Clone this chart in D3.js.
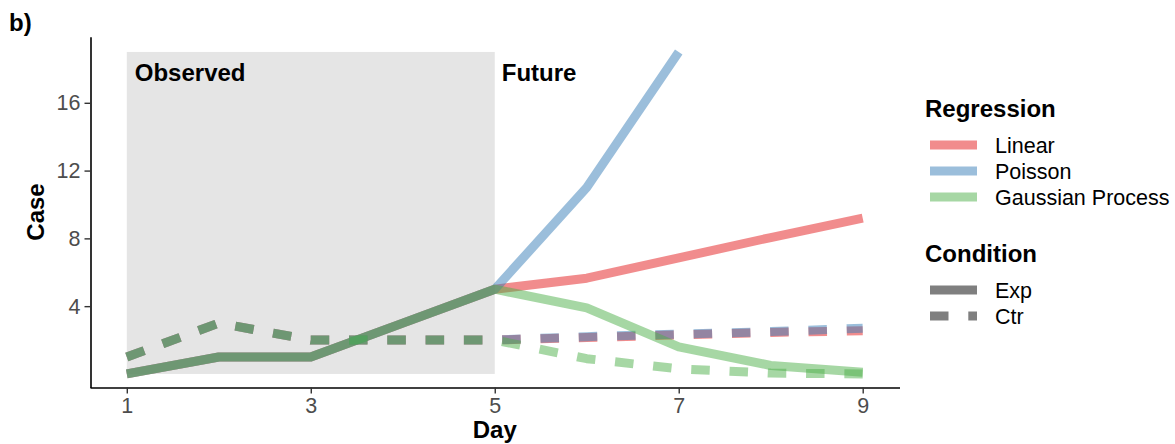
<!DOCTYPE html>
<html>
<head>
<meta charset="utf-8">
<script src="https://cdn.jsdelivr.net/npm/d3@7"></script>
<style>
  body { margin: 0; background: #fff; }
  svg { display: block; font-family: "Liberation Sans", Arial, Helvetica, sans-serif; }
</style>
</head>
<body>
<div id="chart"></div>
<script>
// days on the x axis
const days = [1, 2, 3, 4, 5, 6, 7, 8, 9];
const observedDays = [1, 5];

// observed cases (days 1-5)
const expObserved = [0, 1, 1, 3, 5];
const ctrObserved = [1, 3, 2, 2, 2];

// predictions for days 6-9
const linearExp = [5.65, 6.85, 8.05, 9.2];
const poissonExp = [11.0, 19.0];
const gpExp = [3.9, 1.6, 0.5, 0.1];
const linearCtr = [2.15, 2.3, 2.45, 2.55];
const poissonCtr = [2.2, 2.35, 2.5, 2.7];
const gpCtr = [0.9, 0.3, 0.05, 0.0];

const regressions = ['Linear', 'Poisson', 'Gaussian Process'];
const regColors = ['#E41A1C', '#377EB8', '#4DAF4A'];
const conditions = ['Exp', 'Ctr'];

const yTicks = [4, 8, 12, 16];
const xTicks = [1, 3, 5, 7, 9];

const W = 1175, H = 444;
const LINE_W = 9;
const DASH = '18.5,19.8';

const svg = d3.select('#chart').append('svg')
  .attr('width', W)
  .attr('height', H);

const x = d3.scaleLinear().domain([0.6, 9.4]).range([90, 899.5]);
const y = d3.scaleLinear().domain([-0.8, 19.9]).range([387.5, 36.7]);

// shaded "observed" period
svg.append('rect')
  .attr('x', x(observedDays[0]))
  .attr('y', y(19))
  .attr('width', x(observedDays[1]) - x(observedDays[0]))
  .attr('height', y(0) - y(19))
  .attr('fill', '#E5E5E5');

svg.append('text')
  .attr('x', x(observedDays[0]) + 8)
  .attr('y', 81)
  .attr('font-size', 24)
  .attr('font-weight', 'bold')
  .text('Observed');
svg.append('text')
  .attr('x', x(observedDays[1]) + 7)
  .attr('y', 81)
  .attr('font-size', 24)
  .attr('font-weight', 'bold')
  .text('Future');

// build series: observed part + prediction
const predictions = {
  Linear: { Exp: linearExp, Ctr: linearCtr },
  Poisson: { Exp: poissonExp, Ctr: poissonCtr },
  'Gaussian Process': { Exp: gpExp, Ctr: gpCtr },
};
const series = [];
regressions.forEach((reg, i) => {
  conditions.forEach((cond) => {
    const obs = cond === 'Exp' ? expObserved : ctrObserved;
    const vals = obs.concat(predictions[reg][cond]);
    series.push({
      reg: reg,
      cond: cond,
      color: regColors[i],
      points: vals.map((v, j) => [days[j], v]),
    });
  });
});

const line = d3.line()
  .x((d) => x(d[0]))
  .y((d) => y(d[1]));

svg.append('g')
  .selectAll('path')
  .data(series)
  .enter().append('path')
  .attr('d', (s) => line(s.points))
  .attr('fill', 'none')
  .attr('stroke', (s) => s.color)
  .attr('stroke-opacity', 0.5)
  .attr('stroke-width', LINE_W)
  .attr('stroke-linejoin', 'round')
  .attr('stroke-dasharray', (s) => s.cond === 'Ctr' ? DASH : null);

// axes
const xAxis = svg.append('g')
  .attr('transform', 'translate(0,' + 387.5 + ')')
  .call(d3.axisBottom(x).tickValues(xTicks).tickSize(6).tickPadding(4).tickSizeOuter(0));
const yAxis = svg.append('g')
  .attr('transform', 'translate(90.5,0)')
  .call(d3.axisLeft(y).tickValues(yTicks).tickSize(6).tickPadding(4).tickSizeOuter(0));

[xAxis, yAxis].forEach((ax) => {
  ax.select('.domain').attr('stroke', '#000').attr('stroke-width', 1.6);
  ax.selectAll('.tick line').attr('stroke', '#333').attr('stroke-width', 1.4);
  ax.selectAll('.tick text')
    .attr('fill', '#4D4D4D')
    .attr('font-size', 21.5)
    .attr('font-family', '"Liberation Sans", Arial, sans-serif');
});

// axis titles
svg.append('text')
  .attr('x', (x.range()[0] + x.range()[1]) / 2)
  .attr('y', 438)
  .attr('text-anchor', 'middle')
  .attr('font-size', 24)
  .attr('font-weight', 'bold')
  .text('Day');
svg.append('text')
  .attr('transform', 'translate(44,212) rotate(-90)')
  .attr('text-anchor', 'middle')
  .attr('font-size', 24)
  .attr('font-weight', 'bold')
  .text('Case');

svg.append('text')
  .attr('x', 9)
  .attr('y', 31)
  .attr('font-size', 24)
  .attr('font-weight', 'bold')
  .text('b)');

// legends
const legX = 925, keyX0 = 930, keyX1 = 977, labX = 995;

svg.append('text')
  .attr('x', legX).attr('y', 117)
  .attr('font-size', 24).attr('font-weight', 'bold')
  .text('Regression');

const regKeyY = [145, 171, 197];
regressions.forEach((reg, i) => {
  svg.append('line')
    .attr('x1', keyX0).attr('x2', keyX1)
    .attr('y1', regKeyY[i]).attr('y2', regKeyY[i])
    .attr('stroke', regColors[i]).attr('stroke-opacity', 0.5)
    .attr('stroke-width', LINE_W);
  svg.append('text')
    .attr('x', labX).attr('y', regKeyY[i] + 7.5)
    .attr('font-size', 21.5)
    .text(reg);
});

svg.append('text')
  .attr('x', legX).attr('y', 262)
  .attr('font-size', 24).attr('font-weight', 'bold')
  .text('Condition');

const condKeyY = [290, 316];
conditions.forEach((cond, i) => {
  svg.append('line')
    .attr('x1', keyX0).attr('x2', keyX1)
    .attr('y1', condKeyY[i]).attr('y2', condKeyY[i])
    .attr('stroke', '#000').attr('stroke-opacity', 0.5)
    .attr('stroke-width', LINE_W)
    .attr('stroke-dasharray', cond === 'Ctr' ? DASH : null);
  svg.append('text')
    .attr('x', labX).attr('y', condKeyY[i] + 7.5)
    .attr('font-size', 21.5)
    .text(cond);
});
</script>
</body>
</html>
